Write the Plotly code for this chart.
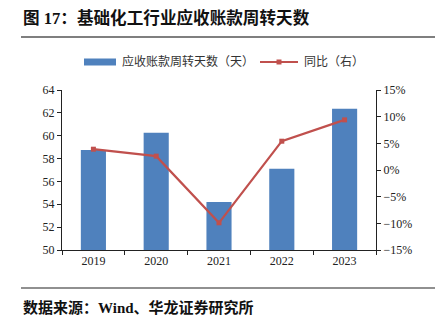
import plotly.graph_objects as go

years = ["2019", "2020", "2021", "2022", "2023"]
turnover_days = [58.75, 60.25, 54.2, 57.1, 62.35]
yoy_pct = [3.9, 2.6, -9.9, 5.4, 9.4]

title_text = "图 17：基础化工行业应收账款周转天数"
source_text = "数据来源：Wind、华龙证券研究所"
legend_bar = "应收账款周转天数（天）"
legend_line = "同比（右）"

BLUE = "#4f81bd"
RED = "#c0504d"
FONT = "Liberation Serif, Noto Sans CJK SC"

W, H = 435, 326
L, R, T, B = 62, 376, 90, 250


def px(x):
    return (x - L) / (R - L)


def py(y):
    return (B - y) / (B - T)


fig = go.Figure()
fig.add_trace(go.Bar(x=years, y=turnover_days, marker=dict(color=BLUE, line=dict(width=0)),
                     width=0.4, showlegend=False, yaxis="y"))
fig.add_trace(go.Scatter(x=years, y=yoy_pct, mode="lines+markers", yaxis="y2",
                         line=dict(color=RED, width=2.2),
                         marker=dict(symbol="square", size=5, color=RED),
                         showlegend=False))

shapes = [
    dict(type="line", xref="paper", yref="paper", x0=px(21), x1=px(435), y0=py(37), y1=py(37),
         line=dict(color="#555555", width=1.5)),
    dict(type="line", xref="paper", yref="paper", x0=px(21), x1=px(435), y0=py(288), y1=py(288),
         line=dict(color="#222222", width=1.2)),
    dict(type="rect", xref="paper", yref="paper", x0=px(84), x1=px(116), y0=py(65.5), y1=py(58.5),
         fillcolor=BLUE, line=dict(width=0)),
    dict(type="line", xref="paper", yref="paper", x0=px(260), x1=px(298), y0=py(62), y1=py(62),
         line=dict(color=RED, width=2)),
    dict(type="rect", xref="paper", yref="paper", x0=px(276.5), x1=px(281.5), y0=py(64.5), y1=py(59.5),
         fillcolor=RED, line=dict(width=0)),
]

annotations = [
    dict(text="<b>" + title_text + "</b>", xref="paper", yref="paper", x=px(21), y=py(18),
         xanchor="left", yanchor="middle", showarrow=False,
         font=dict(family=FONT, size=16.6, color="#111111")),
    dict(text="<b>" + source_text + "</b>", xref="paper", yref="paper", x=px(21), y=py(307),
         xanchor="left", yanchor="middle", showarrow=False,
         font=dict(family=FONT, size=15, color="#111111")),
    dict(text=legend_bar, xref="paper", yref="paper", x=px(120), y=py(62),
         xanchor="left", yanchor="middle", showarrow=False,
         font=dict(family=FONT, size=12, color="#333333")),
    dict(text=legend_line, xref="paper", yref="paper", x=px(302), y=py(62),
         xanchor="left", yanchor="middle", showarrow=False,
         font=dict(family=FONT, size=12, color="#333333")),
]

axis_common = dict(showgrid=False, zeroline=False, showline=True, linecolor="#222222", linewidth=1,
                   ticks="outside", ticklen=4, tickcolor="#222222",
                   tickfont=dict(family=FONT, size=12, color="#222222"))

fig.update_layout(
    width=W, height=H,
    margin=dict(l=L, r=W - R, t=T, b=H - B),
    paper_bgcolor="white", plot_bgcolor="white",
    shapes=shapes, annotations=annotations,
    bargap=0.6,
    xaxis=dict(**axis_common, type="category", tickson="boundaries"),
    yaxis=dict(**axis_common, range=[50, 64], dtick=2),
    yaxis2=dict(**axis_common, overlaying="y", side="right", range=[-15, 15], dtick=5,
                ticksuffix="%"),
)

fig.write_html("out.html")
